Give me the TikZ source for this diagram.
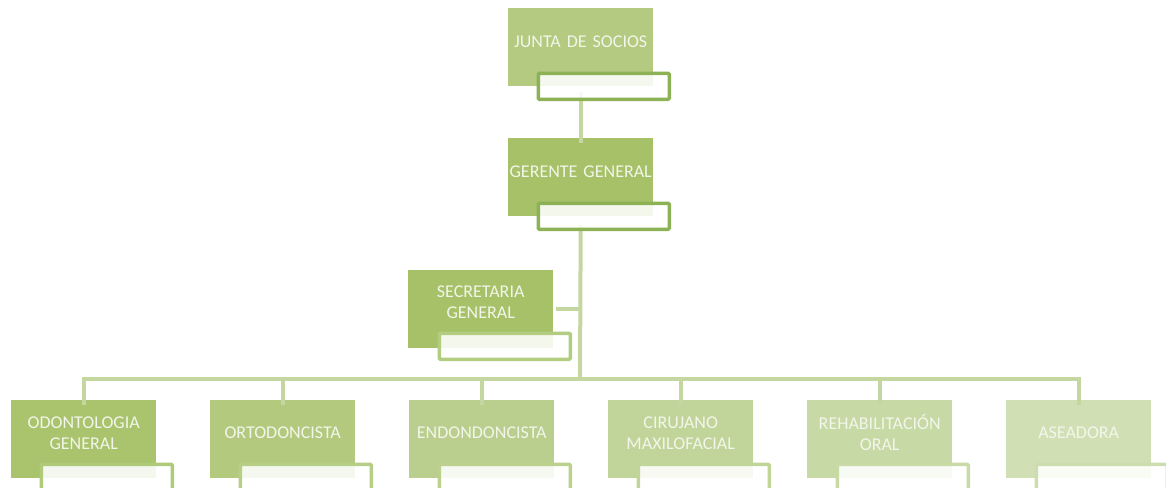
\documentclass[tikz,border=0pt]{standalone}
\usepackage{fontspec}
\setmainfont{Carlito}
\definecolor{lbltext}{HTML}{F2F6EA}
\definecolor{conncol}{HTML}{C5D7A0}
\definecolor{cJ}{HTML}{B3CA80}\definecolor{bJ}{HTML}{8DB256}
\definecolor{cG}{HTML}{A6C167}\definecolor{bG}{HTML}{8DB256}
\definecolor{cS}{HTML}{A6C167}\definecolor{bS}{HTML}{B2CC80}
\definecolor{c1}{HTML}{A9C46C}\definecolor{b1}{HTML}{AFCA78}
\definecolor{c2}{HTML}{B3CA7E}\definecolor{b2}{HTML}{B6CE85}
\definecolor{c3}{HTML}{BACF8D}\definecolor{b3}{HTML}{BCD18E}
\definecolor{c4}{HTML}{C1D59A}\definecolor{b4}{HTML}{C2D598}
\definecolor{c5}{HTML}{C7D9A5}\definecolor{b5}{HTML}{C9DAA6}
\definecolor{c6}{HTML}{D1E0B4}\definecolor{b6}{HTML}{CEDDB0}
\begin{document}
\begin{tikzpicture}[x=1pt,y=-1pt,
  mainbox/.style={draw=none,fill=#1,minimum width=145pt,minimum height=78pt,anchor=north west,inner sep=0pt},
  subbox/.style={draw=#1,line width=3.5pt,rounded corners=1pt,fill=white,fill opacity=0.88,draw opacity=1,minimum width=131pt,minimum height=26pt,anchor=north west,inner sep=0pt},
  lbl/.style={text=lbltext,font=\fontsize{18}{21}\selectfont,align=center,text width=145pt,anchor=center,inner sep=0pt},
  conn/.style={draw=conncol,line width=4pt}]
\useasboundingbox (0,0) rectangle (1166,487);
\clip (0,0) rectangle (1166,487);
% boxes
\node[mainbox=cJ] (j) at (508,8) {};
\node[mainbox=cG] (g) at (508,138) {};
\node[mainbox=cS] (s) at (408,270) {};
\node[mainbox=c1] (o1) at (11,400) {};
\node[mainbox=c2] (o2) at (210,400) {};
\node[mainbox=c3] (o3) at (409,400) {};
\node[mainbox=c4] (o4) at (608,400) {};
\node[mainbox=c5] (o5) at (807,400) {};
\node[mainbox=c6] (o6) at (1006,400) {};
% connectors
\coordinate (bus) at (580,379);
\draw[conn] (j.center |- 0,92) -- ([yshift=-5pt]g.north);
\draw[conn] (g.center |- 0,225) -- (bus);
\draw[conn] ([xshift=3pt]s.east) -- (s.east -| bus);
\draw[conn,line join=miter] ([yshift=-5pt]o1.north) -- (o1.north |- bus) -- (o6.north |- bus) -- ([yshift=-5pt]o6.north);
\foreach \k in {2,3,4,5}{\draw[conn] (o\k.north |- bus) -- ([yshift=-5pt]o\k.north);}
% sub boxes
\node[subbox=bJ] (jo) at (536.5,71.5) {};
\node[subbox=bG] (go) at (536.5,201.5) {};
\node[subbox=bS] (so) at (437.5,331.5) {};
\foreach \k in {1,...,6}{\node[subbox=b\k] (o\k o) at ([xshift=28.5pt,yshift=-62.5pt]o\k.north west) {};}
% labels
\node[lbl] (tj) at ([yshift=-34pt]j.north) {JUNTA DE SOCIOS};
\node[lbl] (tg) at ([yshift=-34pt]g.north) {GERENTE GENERAL};
\node[lbl] (ts) at ([yshift=-32pt]s.north) {SECRETARIA\\GENERAL};
\node[lbl] (t1) at ([yshift=-33pt]o1.north) {ODONTOLOGIA\\GENERAL};
\node[lbl] (t2) at ([yshift=-33pt]o2.north) {ORTODONCISTA};
\node[lbl] (t3) at ([yshift=-33pt]o3.north) {ENDONDONCISTA};
\node[lbl] (t4) at ([yshift=-33pt]o4.north) {CIRUJANO\\MAXILOFACIAL};
\node[lbl] (t5) at ([yshift=-33pt]o5.north) {REHABILITACIÓN\\ORAL};
\node[lbl] (t6) at ([yshift=-33pt]o6.north) {ASEADORA};
\end{tikzpicture}
\end{document}
